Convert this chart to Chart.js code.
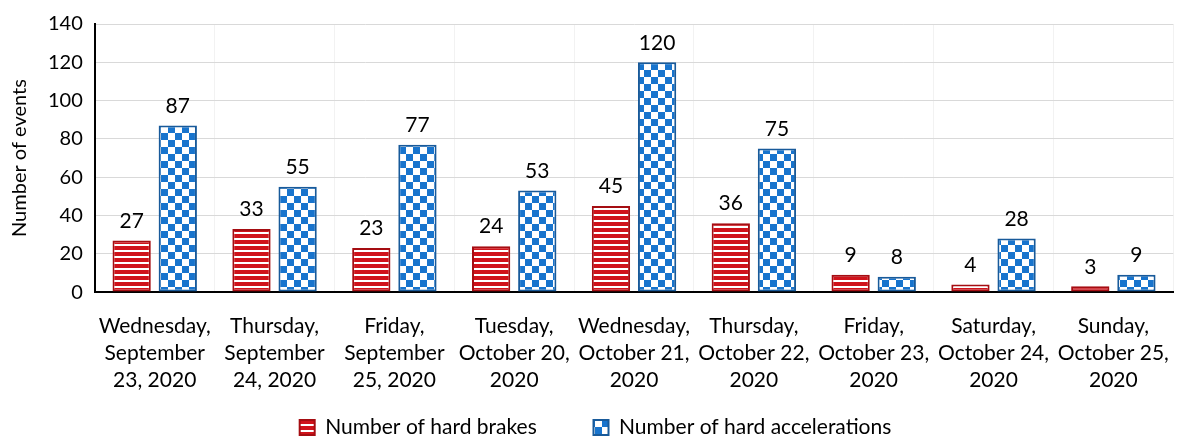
<!DOCTYPE html>
<html>
<head>
<meta charset="utf-8">
<script src="https://cdn.jsdelivr.net/npm/chart.js@4"></script>
<style>
  html, body { margin: 0; padding: 0; background: #fff; }
  #wrap { width: 1189px; height: 448px; }
</style>
</head>
<body>
<div id="wrap"><canvas id="chart"></canvas></div>
<script>
const days = [
    ['Wednesday,', 'September', '23, 2020'],
    ['Thursday,', 'September', '24, 2020'],
    ['Friday,', 'September', '25, 2020'],
    ['Tuesday,', 'October 20,', '2020'],
    ['Wednesday,', 'October 21,', '2020'],
    ['Thursday,', 'October 22,', '2020'],
    ['Friday,', 'October 23,', '2020'],
    ['Saturday,', 'October 24,', '2020'],
    ['Sunday,', 'October 25,', '2020']
];
const hardBrakes = [27, 33, 23, 24, 45, 36, 9, 4, 3];
const hardAccels = [87, 55, 77, 53, 120, 75, 8, 28, 9];
const yTicks = [0, 20, 40, 60, 80, 100, 120, 140];

const FONT = 'Lato, "Open Sans", sans-serif';

// striped fill for the brakes
function stripes() {
    const c = document.createElement('canvas');
    c.width = 8; c.height = 6;
    const g = c.getContext('2d');
    g.fillStyle = '#d0131b';
    g.fillRect(0, 0, 8, 6);
    g.fillStyle = '#ffffff';
    g.fillRect(0, 4, 8, 2);
    return g.createPattern(c, 'repeat');
}
// checkerboard for the accelerations
function checks() {
    const c = document.createElement('canvas');
    c.width = 14; c.height = 14;
    const g = c.getContext('2d');
    g.fillStyle = '#ffffff';
    g.fillRect(0, 0, 14, 14);
    g.fillStyle = '#1874cd';
    g.fillRect(0, 0, 7, 7);
    g.fillRect(7, 7, 7, 7);
    return g.createPattern(c, 'repeat');
}

const valueLabels = {
    id: 'valueLabels',
    afterDatasetsDraw(chart) {
        const ctx = chart.ctx;
        ctx.save();
        ctx.font = '21px ' + FONT;
        ctx.fillStyle = '#000';
        ctx.textAlign = 'center';
        ctx.textBaseline = 'bottom';
        chart.data.datasets.forEach((ds, i) => {
            chart.getDatasetMeta(i).data.forEach((bar, j) => {
                ctx.fillText(ds.data[j], bar.x, bar.y - 9);
            });
        });
        ctx.restore();
    }
};

new Chart(document.getElementById('chart'), {
    type: 'bar',
    data: {
        labels: days,
        datasets: [
            {
                label: 'Number of hard brakes          ',
                data: hardBrakes,
                backgroundColor: stripes(),
                borderColor: '#a50d12',
                borderWidth: 2,
                borderSkipped: false
            },
            {
                label: 'Number of hard accelerations',
                data: hardAccels,
                backgroundColor: checks(),
                borderColor: '#185a9a',
                borderWidth: 2,
                borderSkipped: false
            }
        ]
    },
    options: {
        responsive: true,
        maintainAspectRatio: false,
        animation: false,
        categoryPercentage: 0.77,
        barPercentage: 0.83,
        layout: { padding: { top: 8, right: 2, left: 4, bottom: 0 } },
        plugins: {
            legend: {
                position: 'bottom',
                labels: {
                    font: { family: FONT, size: 21 },
                    color: '#000',
                    boxWidth: 15,
                    boxHeight: 15,
                    padding: 3
                }
            },
            tooltip: { enabled: false }
        },
        scales: {
            x: {
                grid: { color: '#f2f2f2', drawTicks: false, offset: true },
                border: { color: '#000', width: 2 },
                ticks: {
                    font: { family: FONT, size: 21, lineHeight: 1.3 },
                    color: '#000',
                    maxRotation: 0,
                    padding: 20
                }
            },
            y: {
                min: 0,
                max: 140,
                afterBuildTicks(axis) {
                    axis.ticks = yTicks.map(v => ({ value: v }));
                },
                grid: { color: '#d9d9d9', drawTicks: false },
                border: { color: '#000', width: 2 },
                ticks: {
                    font: { family: FONT, size: 20 },
                    color: '#000',
                    padding: 12
                },
                title: {
                    display: true,
                    text: 'Number of events',
                    font: { family: FONT, size: 20 },
                    color: '#000',
                    padding: { bottom: 4 }
                }
            }
        }
    },
    plugins: [valueLabels]
});
</script>
</body>
</html>
